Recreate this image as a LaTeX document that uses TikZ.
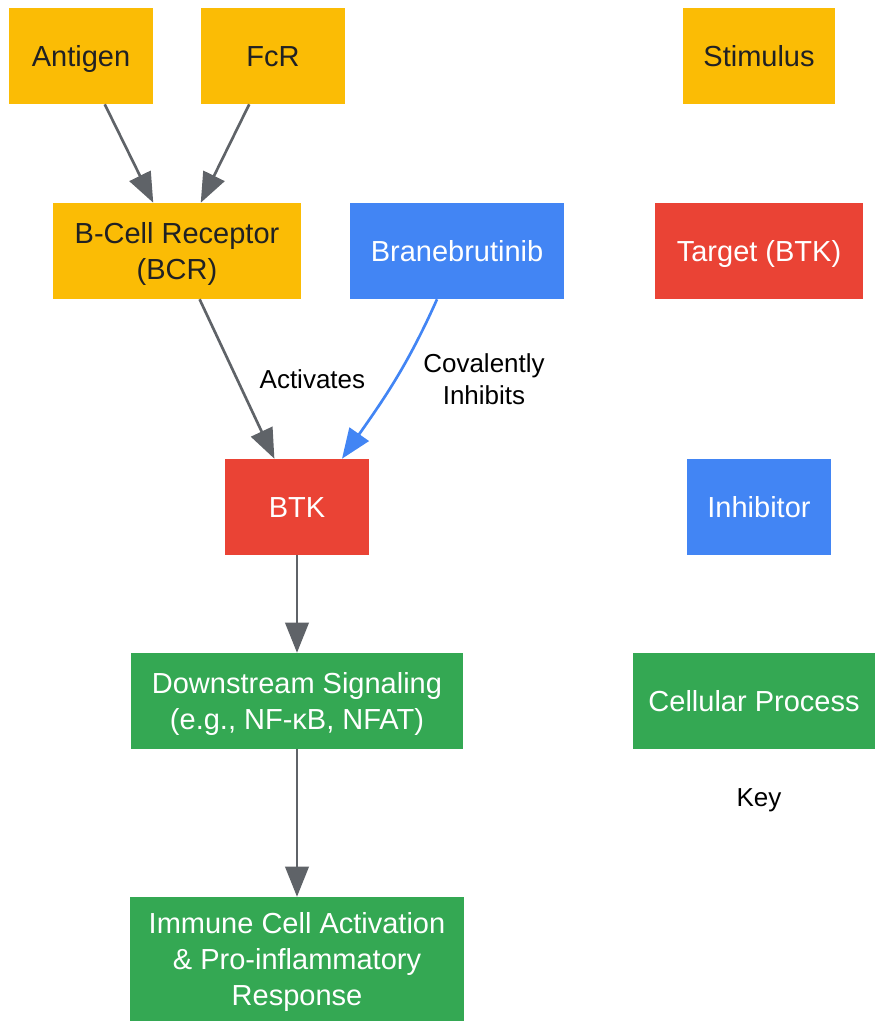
\documentclass[tikz,border=0pt]{standalone}
\usepackage{fontspec}
\setmainfont{Liberation Sans}
\usepackage{tikz}
\usetikzlibrary{arrows.meta}
\definecolor{stimyellow}{HTML}{FBBC05}
\definecolor{drugblue}{HTML}{4285F4}
\definecolor{targetred}{HTML}{EA4335}
\definecolor{procgreen}{HTML}{34A853}
\definecolor{edgegray}{HTML}{5F6368}
\definecolor{darktext}{HTML}{202124}
\newcommand{\boxstrut}{\rule[-5.7pt]{0pt}{27pt}}
\newcommand{\labelstrut}{\rule[-5pt]{0pt}{24pt}}

\begin{document}
\begin{tikzpicture}[x=0.75pt,y=-0.75pt,
		every box/.style={rectangle,inner sep=0pt,minimum height=72pt,align=center,
			font=\fontsize{21.75}{27}\selectfont},
		stimulus box/.style={every box,fill=stimyellow,text=darktext},
		inhibitor box/.style={every box,fill=drugblue,text=white},
		target box/.style={every box,fill=targetred,text=white},
		process box/.style={every box,fill=procgreen,text=white},
		signal edge/.style={draw=edgegray,line width=2pt,
			-{Triangle[length=22.5pt,width=17.5pt]}},
		edge label/.style={font=\fontsize{19.5}{24}\selectfont,align=center,inner sep=0pt}]
	\useasboundingbox (0,0) rectangle (876,1021);
	% pathway
	\node[stimulus box,minimum width=108pt] (antigen) at (81,56) {\boxstrut Antigen};
	\node[stimulus box,minimum width=108pt] (fcr) at (273,56) {\boxstrut FcR};
	\node[stimulus box,minimum width=186pt] (bcr) at (177,251)
		{\boxstrut B-Cell Receptor\\(BCR)\boxstrut};
	\node[inhibitor box,minimum width=160.5pt] (brane) at (457,251) {\boxstrut Branebrutinib};
	\node[target box,minimum width=108pt] (btk) at (297,507) {\boxstrut BTK};
	\node[process box,minimum width=249pt] (down) at (297,701)
		{\boxstrut Downstream Signaling\\(e.g., NF-\symbol{"03BA}B, NFAT)\boxstrut};
	\node[process box,minimum width=250.5pt,minimum height=93pt] (immune) at (297,959)
		{\boxstrut Immune Cell Activation\\\& Pro-inflammatory\\Response\boxstrut};
	% key
	\node[stimulus box,minimum width=114pt] (keystim) at (759,56) {\boxstrut Stimulus};
	\node[target box,minimum width=156pt] (keytarget) at (759,251) {\boxstrut Target (BTK)};
	\node[inhibitor box,minimum width=108pt] (keyinhib) at (759,507) {\boxstrut Inhibitor};
	\node[process box,minimum width=181.5pt] (keyproc) at (754,701) {\boxstrut Cellular Process};
	\node[edge label] (keylabel) at (759,797) {\labelstrut Key};
	% connectors
	\draw[signal edge] (antigen) -- (bcr);
	\draw[signal edge] (fcr) -- (bcr);
	\draw[signal edge] (bcr) -- (btk)
		node[edge label,midway,anchor=west,xshift=16pt] {\labelstrut Activates};
	\draw[signal edge,draw=drugblue] ([xshift=-15pt]brane.south) to[out=-114,in=55]
		([xshift=33.75pt]btk.north);
	\node[edge label] (inhiblabel) at (484,379) {\labelstrut Covalently\\Inhibits\labelstrut};
	\draw[signal edge] (btk) -- (down);
	\draw[signal edge] (down) -- (immune);
\end{tikzpicture}
\end{document}
